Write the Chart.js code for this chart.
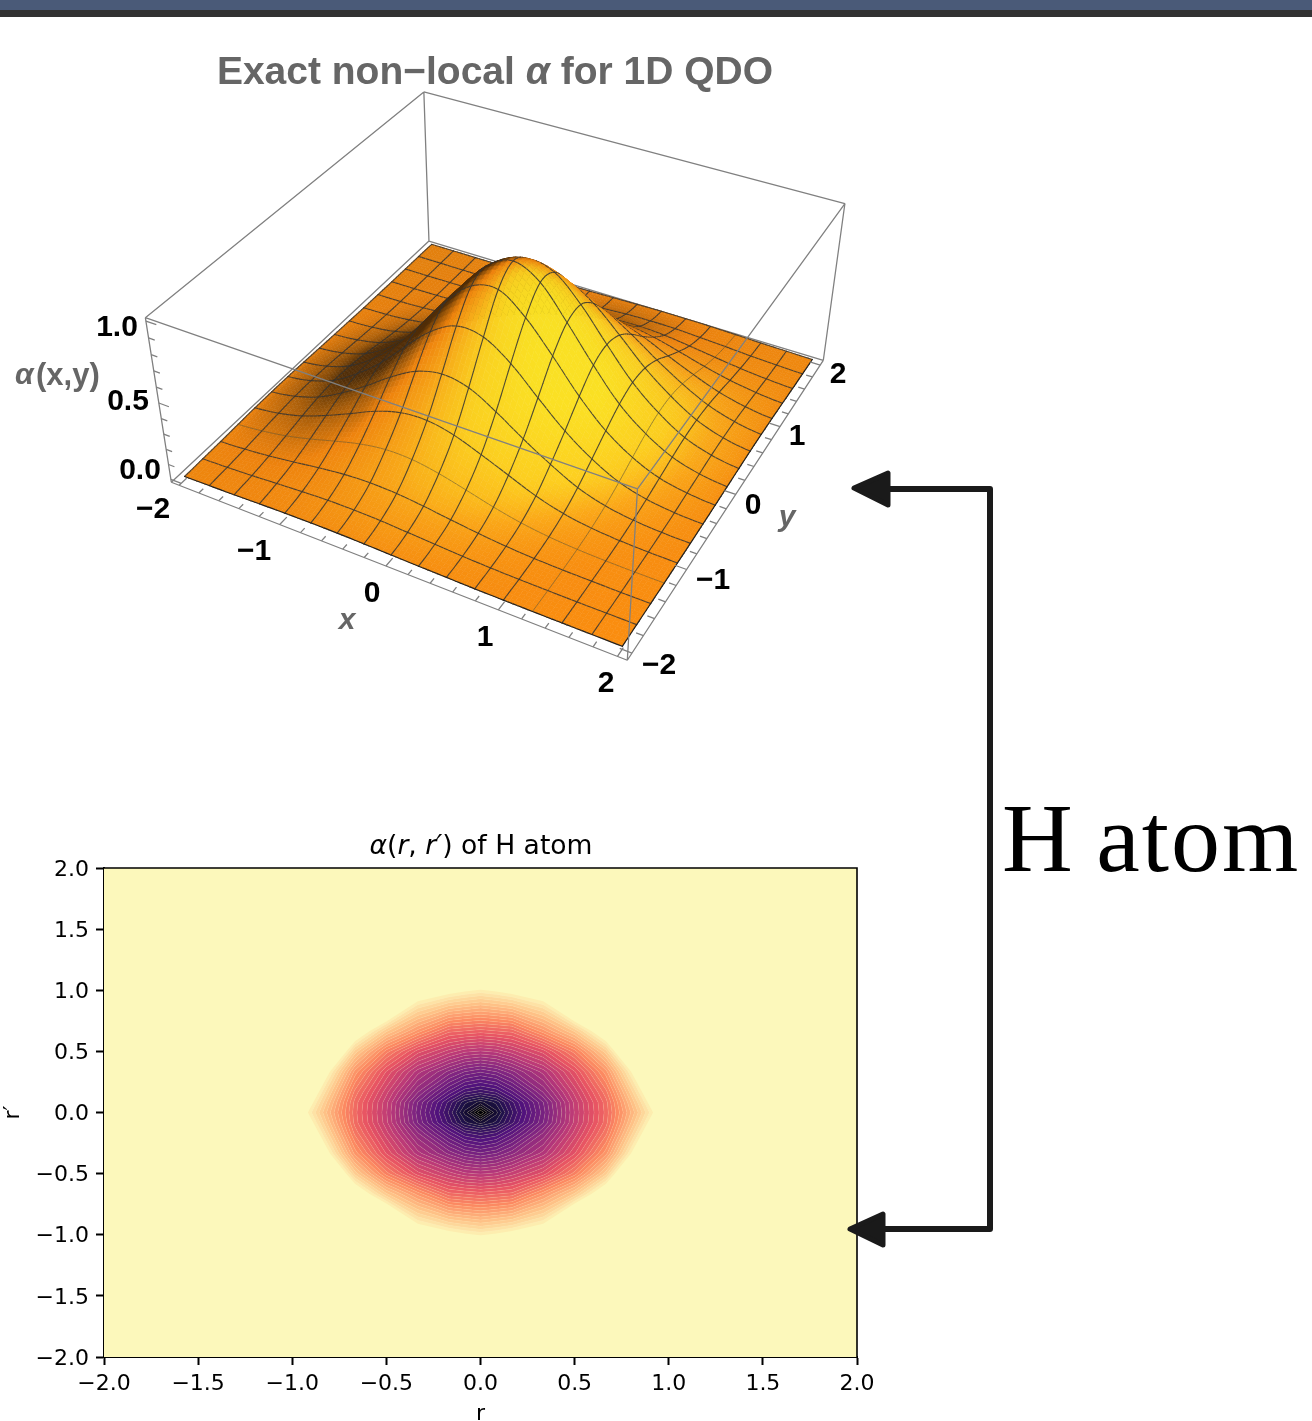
<!DOCTYPE html>
<html>
<head>
<meta charset="utf-8">
<title>Non-local alpha</title>
<script src="https://cdn.jsdelivr.net/npm/chart.js@4"></script>
<style>
  html, body { margin: 0; padding: 0; background: #fff; }
  body { position: relative; width: 1312px; height: 1421px; overflow: hidden; }
  #topBar { position: absolute; left: 0; top: 0; width: 1312px; height: 10px; background: #4a5a78; }
  #topBar2 { position: absolute; left: 0; top: 10px; width: 1312px; height: 7px; background: #323232; }
  #surfaceChart { position: absolute; left: 0; top: 0; }
  #contourChart { position: absolute; left: 0; top: 820px; }
  #title3d { position: absolute; left: 95px; width: 800px; top: 49px; text-align: center; color: #666;
    font: bold 39px "Liberation Sans"; white-space: nowrap; }
  #title2d { position: absolute; left: 181px; width: 600px; top: 829px; text-align: center; color: #000;
    font: 26.6px "DejaVu Sans"; white-space: nowrap; }
  #hAtom { position: absolute; left: 1002px; top: 782px; color: #000; font: 98px "Liberation Serif"; white-space: nowrap;
    letter-spacing: 2px; word-spacing: -5px; }
  #arrows { position: absolute; left: 0; top: 0; }
</style>
</head>
<body>
<div id="topBar"></div>
<div id="topBar2"></div>
<canvas id="surfaceChart" width="900" height="760"></canvas>
<canvas id="contourChart" width="900" height="607"></canvas>
<div id="title3d">Exact non−local <i>α</i> for 1D QDO</div>
<div id="title2d"><i>α</i>(<i>r</i>, <i>r′</i>) of H atom</div>
<div id="hAtom">H atom</div>
<svg id="arrows" width="1312" height="1421">
  <path d="M880 489H990V1229H880" fill="none" stroke="#1a1a1a" stroke-width="6" stroke-linejoin="round"/>
  <path d="M854 488L888 473V505Z" fill="#1a1a1a" stroke="#1a1a1a" stroke-width="5" stroke-linejoin="round"/>
  <path d="M850 1229L883 1214V1245Z" fill="#1a1a1a" stroke="#1a1a1a" stroke-width="5" stroke-linejoin="round"/>
</svg>
<script>
// 3D surface, values
const surfaceX = [-2, -1.75, -1.5, -1.25, -1, -0.75, -0.5, -0.25, 0, 0.25, 0.5, 0.75, 1, 1.25, 1.5, 1.75, 2];
const surfaceY = [-2, -1.75, -1.5, -1.25, -1, -0.75, -0.5, -0.25, 0, 0.25, 0.5, 0.75, 1, 1.25, 1.5, 1.75, 2];
const surfaceZ = [
  [.002,.005,.008,.013,.017,.019,.019,.016,.012,.008,.005,.002,.001,.000,.000,.000,.000],
  [.005,.010,.018,.029,.039,.047,.048,.044,.034,.024,.014,.007,.003,.001,.000,.000,.000],
  [.008,.018,.034,.056,.080,.100,.108,.102,.084,.060,.038,.021,.010,.004,.002,.000,.000],
  [.013,.029,.056,.096,.143,.186,.211,.208,.179,.135,.088,.050,.025,.011,.004,.001,.000],
  [.017,.039,.080,.143,.215,.29,.34,.35,.315,.25,.178,.106,.055,.025,.010,.003,.001],
  [.019,.047,.100,.186,.29,.405,.50,.54,.51,.415,.30,.196,.106,.050,.021,.007,.002],
  [.019,.048,.108,.211,.34,.50,.65,.74,.725,.615,.455,.30,.178,.088,.038,.014,.005],
  [.016,.044,.102,.208,.35,.54,.74,.89,.92,.80,.615,.415,.25,.135,.060,.024,.008],
  [.012,.034,.084,.179,.315,.51,.725,.92,1.00,.92,.725,.51,.315,.179,.084,.034,.012],
  [.008,.024,.060,.135,.25,.415,.615,.80,.92,.89,.74,.54,.35,.208,.102,.044,.016],
  [.005,.014,.038,.088,.178,.30,.455,.615,.725,.74,.65,.50,.34,.211,.108,.048,.019],
  [.002,.007,.021,.050,.106,.196,.30,.415,.51,.54,.50,.405,.29,.186,.100,.047,.019],
  [.001,.003,.010,.025,.055,.106,.178,.25,.315,.35,.34,.29,.215,.143,.080,.039,.017],
  [.000,.001,.004,.011,.025,.050,.088,.135,.179,.208,.211,.186,.143,.096,.056,.029,.013],
  [.000,.000,.002,.004,.010,.021,.038,.060,.084,.102,.108,.100,.080,.056,.034,.018,.008],
  [.000,.000,.000,.001,.003,.007,.014,.024,.034,.044,.048,.047,.039,.029,.018,.010,.005],
  [.000,.000,.000,.000,.001,.002,.005,.008,.012,.016,.019,.019,.017,.013,.008,.005,.002]
];
const boxMajorTicks = [-2, -1, 0, 1, 2];
const boxMinorTicks = [-1.8, -1.6, -1.4, -1.2, -0.8, -0.6, -0.4, -0.2, 0.2, 0.4, 0.6, 0.8, 1.2, 1.4, 1.6, 1.8];
const zMajorTicks = [0, 0.5, 1];
const zMinorTicks = [0.1, 0.2, 0.3, 0.4, 0.6, 0.7, 0.8, 0.9];

// H atom contour grid (fraction of the colour map, below 0 is the palest band)
const rValues = [-2, -1.333, -1, -0.667, -0.5, -0.333, -0.167, -0.083, 0, 0.083, 0.167, 0.333, 0.5, 0.667, 1, 1.333, 2];
const contourValues = [
  [-.5,-.5,-.5,-.5,-.5,-.5,-.5,-.5,-.5,-.5,-.5,-.5,-.5,-.5,-.5,-.5,-.5],
  [-.5,-.5,-.5,-.5,-.5,-.5,-.5,-.5,-.5,-.5,-.5,-.5,-.5,-.5,-.5,-.5,-.5],
  [-.5,-.5,-.5,-.5,-.30,-.074,-.03,-.01,.005,-.01,-.03,-.074,-.30,-.5,-.5,-.5,-.5],
  [-.5,-.5,-.5,-.08,.09,.20,.30,.31,.32,.31,.30,.20,.09,-.08,-.5,-.5,-.5],
  [-.5,-.5,-.5,.08,.25,.37,.44,.47,.48,.47,.44,.37,.25,.08,-.5,-.5,-.5],
  [-.5,-.5,-.30,.20,.36,.49,.58,.62,.64,.62,.58,.49,.36,.20,-.30,-.5,-.5],
  [-.5,-.5,-.20,.27,.42,.57,.70,.76,.78,.76,.70,.57,.42,.27,-.20,-.5,-.5],
  [-.5,-.5,-.15,.295,.445,.62,.77,.85,.89,.85,.77,.62,.445,.295,-.15,-.5,-.5],
  [-.5,-.5,-.10,.30,.45,.63,.79,.89,1.0,.89,.79,.63,.45,.30,-.10,-.5,-.5],
  [-.5,-.5,-.15,.295,.445,.62,.77,.85,.89,.85,.77,.62,.445,.295,-.15,-.5,-.5],
  [-.5,-.5,-.20,.27,.42,.57,.70,.76,.78,.76,.70,.57,.42,.27,-.20,-.5,-.5],
  [-.5,-.5,-.30,.20,.36,.49,.58,.62,.64,.62,.58,.49,.36,.20,-.30,-.5,-.5],
  [-.5,-.5,-.5,.08,.25,.37,.44,.47,.48,.47,.44,.37,.25,.08,-.5,-.5,-.5],
  [-.5,-.5,-.5,-.08,.09,.20,.30,.31,.32,.31,.30,.20,.09,-.08,-.5,-.5,-.5],
  [-.5,-.5,-.5,-.5,-.30,-.074,-.03,-.01,.005,-.01,-.03,-.074,-.30,-.5,-.5,-.5,-.5],
  [-.5,-.5,-.5,-.5,-.5,-.5,-.5,-.5,-.5,-.5,-.5,-.5,-.5,-.5,-.5,-.5,-.5],
  [-.5,-.5,-.5,-.5,-.5,-.5,-.5,-.5,-.5,-.5,-.5,-.5,-.5,-.5,-.5,-.5,-.5]
];
const rTickLabels = ['−2.0', '−1.5', '−1.0', '−0.5', '0.0', '0.5', '1.0', '1.5', '2.0'];
const contourLevels = 42;
const magmaReversed = ['#fcfdbf', '#fec488', '#fc8961', '#e75263', '#b73779', '#822681', '#51127c', '#1d1147', '#000004'];

// camera: where the eight corners of the padded box fall on the page
const boxPad = 2.08, zLow = -0.02, zHigh = 1.02;
const cameraAnchors = [
  [-boxPad, -boxPad, zLow, 171, 482], [boxPad, -boxPad, zLow, 628, 660],
  [boxPad, boxPad, zLow, 823, 361], [-boxPad, boxPad, zLow, 429, 241],
  [-boxPad, -boxPad, zHigh, 145.5, 318], [boxPad, -boxPad, zHigh, 637, 489],
  [boxPad, boxPad, zHigh, 845, 203], [-boxPad, boxPad, zHigh, 424, 92]
];

function solveCamera() {
  // least squares for the 11 terms of a projective camera
  const A = [], b = [];
  cameraAnchors.forEach(([X, Y, Z, u, v]) => {
    A.push([X, Y, Z, 1, 0, 0, 0, 0, -u * X, -u * Y, -u * Z]); b.push(u);
    A.push([0, 0, 0, 0, X, Y, Z, 1, -v * X, -v * Y, -v * Z]); b.push(v);
  });
  const n = 11;
  const M = [];
  for (let i = 0; i < n; i++) {
    M.push([]);
    for (let j = 0; j < n; j++) M[i].push(A.reduce((s, r) => s + r[i] * r[j], 0));
    M[i].push(A.reduce((s, r, k) => s + r[i] * b[k], 0));
  }
  for (let c = 0; c < n; c++) {
    let p = c;
    for (let r = c + 1; r < n; r++) if (Math.abs(M[r][c]) > Math.abs(M[p][c])) p = r;
    [M[c], M[p]] = [M[p], M[c]];
    for (let r = 0; r < n; r++) {
      if (r === c) continue;
      const f = M[r][c] / M[c][c];
      for (let k = c; k <= n; k++) M[r][k] -= f * M[c][k];
    }
  }
  return M.map((row, i) => row[n] / row[i]);
}
const cam = solveCamera();

function project(x, y, z) {
  const w = cam[8] * x + cam[9] * y + cam[10] * z + 1;
  return {
    x: (cam[0] * x + cam[1] * y + cam[2] * z + cam[3]) / w,
    y: (cam[4] * x + cam[5] * y + cam[6] * z + cam[7]) / w
  };
}

function lineSegments(pairs) {
  // one dataset, gaps between the segments
  const out = [];
  pairs.forEach(([a, b]) => { out.push(project(...a), project(...b), { x: NaN, y: NaN }); });
  return out;
}

const P = boxPad;
const backFrame = lineSegments([
  [[-P, -P, zLow], [-P, P, zLow]], [[-P, P, zLow], [P, P, zLow]],
  [[-P, P, zLow], [-P, P, zHigh]], [[P, P, zLow], [P, P, zHigh]],
  [[-P, -P, zHigh], [-P, P, zHigh]], [[-P, P, zHigh], [P, P, zHigh]]
]);
const frontFrame = lineSegments([
  [[-P, -P, zHigh], [P, -P, zHigh]], [[P, -P, zHigh], [P, P, zHigh]],
  [[P, -P, zLow], [P, -P, zHigh]], [[-P, -P, zLow], [-P, -P, zHigh]],
  [[-P, -P, zLow], [P, -P, zLow]], [[P, -P, zLow], [P, P, zLow]]
]);
const tickPairs = [];
[[boxMajorTicks, 0.1], [boxMinorTicks, 0.06]].forEach(([ticks, len]) => {
  ticks.forEach(t => {
    tickPairs.push([[t, -P, zLow], [t, -P + len, zLow]]);
    tickPairs.push([[P, t, zLow], [P - len, t, zLow]]);
  });
});
[[zMajorTicks, 0.1], [zMinorTicks, 0.06]].forEach(([ticks, len]) => {
  ticks.forEach(t => tickPairs.push([[-P, -P, t], [-P + len, -P, t]]));
});
const surfaceNodes = [];
surfaceY.forEach((y, j) => surfaceX.forEach((x, i) => surfaceNodes.push(project(x, y, surfaceZ[j][i]))));

// catmull-rom through the table so the paint is smooth between mesh lines
function crom(a, b, c, d, t) {
  return 0.5 * (2 * b + (c - a) * t + (2 * a - 5 * b + 4 * c - d) * t * t + (3 * b - a - 3 * c + d) * t * t * t);
}
function zAt(x, y) {
  const fx = Math.min(Math.max((x + 2) * 4, 0), 16), fy = Math.min(Math.max((y + 2) * 4, 0), 16);
  const i = Math.min(Math.floor(fx), 15), j = Math.min(Math.floor(fy), 15);
  const cl = n => Math.min(Math.max(n, 0), 16);
  const col = [];
  for (let m = -1; m <= 2; m++) {
    const r = surfaceZ[cl(j + m)];
    col.push(crom(r[cl(i - 1)], r[cl(i)], r[cl(i + 1)], r[cl(i + 2)], fx - i));
  }
  return crom(col[0], col[1], col[2], col[3], fy - j);
}

const shadeStops = [
  [-0.50, [84, 48, 8]], [-0.28, [165, 92, 10]], [-0.04, [245, 135, 14]], [0.3, [252, 168, 24]],
  [0.6, [255, 208, 32]], [0.85, [255, 228, 36]], [1, [255, 232, 40]]
];
function shade(x, y) {
  const h = 0.06;
  const zx = (zAt(x + h, y) - zAt(x - h, y)) / (2 * h), zy = (zAt(x, y + h) - zAt(x, y - h)) / (2 * h);
  let nx = -zx * 1.6, ny = -zy * 1.6;
  const len = Math.hypot(nx, ny, 1);
  nx /= len; ny /= len;
  const a = (nx - ny) * Math.SQRT1_2, b = (nx + ny) * Math.SQRT1_2;
  const q = Math.max(-0.5, Math.min(1, a + 0.35 * b));
  let k = 0;
  while (k < shadeStops.length - 2 && q > shadeStops[k + 1][0]) k++;
  const [q0, c0] = shadeStops[k], [q1, c1] = shadeStops[k + 1];
  const t = (q - q0) / (q1 - q0);
  const lift = 0.92 + 0.1 * (x - y + 4) / 8;
  return 'rgb(' + c0.map((c, n) => Math.min(255, Math.round((c + (c1[n] - c) * t) * lift))).join(',') + ')';
}

const thinMeshX = [1.25], thinMeshY = [-1.25];
const surfaceLabels = [
  ['1.0', 117, 328], ['0.5', 128, 402], ['0.0', 140, 471],
  ['−2', 153, 510], ['−1', 254, 552], ['0', 372, 594], ['1', 485, 638], ['2', 606, 684],
  ['−2', 659, 666], ['−1', 713, 581], ['0', 753, 506], ['1', 797, 437], ['2', 838, 375]
];

const surfacePaint = {
  id: 'surfacePaint',
  beforeDatasetDraw(chart, args) {
    if (chart.data.datasets[args.index].label !== 'surface') return;
    const { ctx, scales } = chart;
    const sub = 6, n = 16 * sub, step = 0.25 / sub;
    const px = (x, y) => {
      const p = project(x, y, zAt(x, y));
      return [scales.x.getPixelForValue(p.x), scales.y.getPixelForValue(p.y)];
    };
    const meshStroke = (a, b, w, col) => {
      ctx.strokeStyle = col; ctx.lineWidth = w; ctx.lineCap = 'round';
      ctx.beginPath(); ctx.moveTo(a[0], a[1]); ctx.lineTo(b[0], b[1]); ctx.stroke();
    };
    ctx.save();
    // far corner first, the peak then hides what is behind it
    for (let i = 0; i < n; i++) {
      for (let j = n - 1; j >= 0; j--) {
        const x0 = -2 + i * step, x1 = x0 + step, y0 = -2 + j * step, y1 = y0 + step;
        const a = px(x0, y0), b = px(x1, y0), c = px(x1, y1), d = px(x0, y1);
        const col = shade(x0 + step / 2, y0 + step / 2);
        ctx.fillStyle = col; ctx.strokeStyle = col; ctx.lineWidth = 0.6; ctx.lineJoin = 'round';
        ctx.beginPath(); ctx.moveTo(a[0], a[1]); ctx.lineTo(b[0], b[1]); ctx.lineTo(c[0], c[1]); ctx.lineTo(d[0], d[1]);
        ctx.closePath(); ctx.fill(); ctx.stroke();
        const meshCol = 'rgba(50,50,50,0.85)';
        if (i % sub === 0) {
          const thin = i === Math.round((thinMeshX[0] + 2) * 4) * sub;
          meshStroke(a, d, thin ? 0.7 : 1.1, thin ? 'rgba(90,80,50,0.8)' : meshCol);
        }
        if ((j + 1) % sub === 0) {
          const thin = j + 1 === Math.round((thinMeshY[0] + 2) * 4) * sub;
          meshStroke(c, d, thin ? 0.7 : 1.1, thin ? 'rgba(90,80,50,0.8)' : meshCol);
        }
        if (i === n - 1) meshStroke(b, c, 1.2, '#222');
        if (j === 0) meshStroke(a, b, 1.2, '#222');
      }
    }
    ctx.restore();
  },
  afterDraw(chart) {
    const { ctx, scales } = chart;
    ctx.save();
    ctx.textAlign = 'center'; ctx.textBaseline = 'middle';
    ctx.fillStyle = '#000'; ctx.font = 'bold 30px "Liberation Sans"';
    surfaceLabels.forEach(([t, x, y]) => ctx.fillText(t, scales.x.getPixelForValue(x), scales.y.getPixelForValue(y)));
    ctx.fillStyle = '#666'; ctx.font = 'italic bold 30px "Liberation Sans"';
    ctx.fillText('x', 347, 621);
    ctx.fillText('y', 787, 518);
    ctx.textAlign = 'left';
    ctx.fillText('α', 15, 376);
    ctx.font = 'bold 31px "Liberation Sans"';
    ctx.fillText('(x,y)', 36, 376);
    ctx.restore();
  }
};

function frameDataset(data, order) {
  return { type: 'scatter', data, showLine: true, order, pointRadius: 0, borderColor: '#808080', borderWidth: 1.3, tension: 0, spanGaps: false, fill: false };
}

new Chart(document.getElementById('surfaceChart'), {
  type: 'scatter',
  data: {
    datasets: [
      frameDataset(backFrame, 3),
      { label: 'surface', data: surfaceNodes, pointRadius: 0, order: 2 },
      frameDataset(frontFrame, 1),
      frameDataset(lineSegments(tickPairs), 1)
    ]
  },
  options: {
    responsive: false,
    animation: false,
    events: [],
    layout: { padding: 0 },
    plugins: { legend: { display: false }, tooltip: { enabled: false } },
    scales: {
      x: { type: 'linear', min: 0, max: 900, display: false },
      y: { type: 'linear', min: 0, max: 760, reverse: true, display: false }
    }
  },
  plugins: [surfacePaint]
});

// colour for a position 0..1 along the reversed map
function magmaAt(t) {
  const f = Math.min(0.9999, Math.max(0, t)) * (magmaReversed.length - 1);
  const i = Math.floor(f), u = f - i;
  const hex = s => [1, 3, 5].map(k => parseInt(s.substr(k, 2), 16));
  const a = hex(magmaReversed[i]), b = hex(magmaReversed[i + 1]);
  return 'rgb(' + a.map((v, k) => Math.round(v + (b[k] - v) * u)).join(',') + ')';
}

// one cell's piece of the band lo..hi, walking round its corners
function bandPiece(corners, lo, hi) {
  const out = [];
  for (let k = 0; k < 4; k++) {
    const A = corners[k], B = corners[(k + 1) % 4];
    if (A[2] >= lo && A[2] <= hi) out.push(A);
    const hits = [];
    [lo, hi].forEach(L => {
      if ((A[2] - L) * (B[2] - L) < 0) hits.push((L - A[2]) / (B[2] - A[2]));
    });
    hits.sort((p, q) => p - q).forEach(t => out.push([A[0] + (B[0] - A[0]) * t, A[1] + (B[1] - A[1]) * t]));
  }
  return out;
}

const contourPaint = {
  id: 'contourPaint',
  beforeDatasetDraw(chart) {
    const { ctx, scales, chartArea: ca } = chart;
    const X = v => scales.x.getPixelForValue(v), Y = v => scales.y.getPixelForValue(v);
    const cellCorners = (i, j) => [
      [rValues[i], rValues[j], contourValues[j][i]], [rValues[i + 1], rValues[j], contourValues[j][i + 1]],
      [rValues[i + 1], rValues[j + 1], contourValues[j + 1][i + 1]], [rValues[i], rValues[j + 1], contourValues[j + 1][i]]
    ];
    const last = rValues.length - 1;
    ctx.save();
    ctx.fillStyle = '#fcf8bb';
    ctx.fillRect(ca.left, ca.top, ca.right - ca.left, ca.bottom - ca.top);
    for (let b = 0; b < contourLevels; b++) {
      const lo = b / contourLevels, hi = (b + 1) / contourLevels;
      ctx.beginPath();
      for (let j = 0; j < last; j++) {
        for (let i = 0; i < last; i++) {
          const piece = bandPiece(cellCorners(i, j), lo, hi);
          if (piece.length < 3) continue;
          piece.forEach((p, k) => {
            if (k === 0) ctx.moveTo(X(p[0]), Y(p[1])); else ctx.lineTo(X(p[0]), Y(p[1]));
          });
          ctx.closePath();
        }
      }
      ctx.fillStyle = magmaAt((b + 1.5) / contourLevels);
      ctx.fill();
    }
    // faint pale seam along each level, the bands do not quite meet
    ctx.strokeStyle = 'rgba(255,230,210,0.2)';
    ctx.lineWidth = 0.6;
    ctx.beginPath();
    for (let b = 1; b < contourLevels; b++) {
      const L = b / contourLevels;
      for (let j = 0; j < last; j++) {
        for (let i = 0; i < last; i++) {
          const c = cellCorners(i, j), hits = [];
          for (let k = 0; k < 4; k++) {
            const A = c[k], B = c[(k + 1) % 4];
            if ((A[2] - L) * (B[2] - L) < 0) {
              const t = (L - A[2]) / (B[2] - A[2]);
              hits.push([A[0] + (B[0] - A[0]) * t, A[1] + (B[1] - A[1]) * t]);
            }
          }
          if (hits.length === 2) {
            ctx.moveTo(X(hits[0][0]), Y(hits[0][1]));
            ctx.lineTo(X(hits[1][0]), Y(hits[1][1]));
          }
        }
      }
    }
    ctx.stroke();
    ctx.restore();
  },
  afterDatasetsDraw(chart) {
    const { ctx, chartArea: ca } = chart;
    ctx.save();
    ctx.strokeStyle = '#000'; ctx.lineWidth = 1.6;
    ctx.beginPath();
    ctx.moveTo(ca.left, ca.top); ctx.lineTo(ca.right, ca.top); ctx.lineTo(ca.right, ca.bottom);
    ctx.stroke();
    ctx.restore();
  }
};

const contourNodes = [];
rValues.forEach((y, j) => rValues.forEach((x, i) => contourNodes.push({ x, y, v: contourValues[j][i] })));

const tickFont = { family: 'DejaVu Sans', size: 22 };
function contourAxis(title, isX) {
  return {
    type: 'linear', min: -2, max: 2,
    border: { display: true, color: '#000', width: 2 },
    grid: { drawOnChartArea: false, drawTicks: true, tickLength: 8, tickColor: '#000', tickWidth: 2 },
    ticks: {
      stepSize: 0.5, color: '#000', font: tickFont, padding: isX ? 6 : 7, maxRotation: 0, autoSkip: false,
      labelOffset: isX ? 0 : 2,
      callback: (v, i) => rTickLabels[i]
    },
    title: { display: true, text: title, color: '#000', font: tickFont, padding: 0 },
    afterFit(scale) {
      if (isX) scale.height = 70; else scale.width = 104;
    }
  };
}

new Chart(document.getElementById('contourChart'), {
  type: 'scatter',
  data: { datasets: [{ label: 'alpha', data: contourNodes, pointRadius: 0 }] },
  options: {
    responsive: false,
    animation: false,
    events: [],
    layout: { padding: { top: 48, right: 43, left: 0, bottom: 0 } },
    plugins: { legend: { display: false }, tooltip: { enabled: false } },
    scales: { x: contourAxis('r', true), y: contourAxis('r′', false) }
  },
  plugins: [contourPaint]
});
</script>
</body>
</html>
